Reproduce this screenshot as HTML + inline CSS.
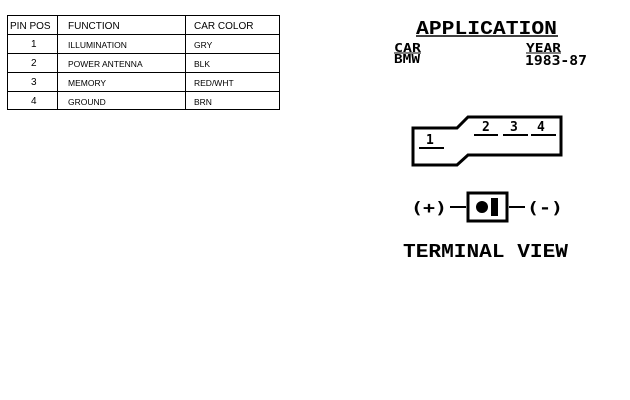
<!DOCTYPE html>
<html><head><style>
body{margin:0;width:630px;height:400px;background:#fff;position:relative;overflow:hidden;font-family:"Liberation Mono",monospace;}
</style></head><body>
<svg width="630" height="400" style="position:absolute;left:0;top:0" font-family="Liberation Mono, monospace">
<g stroke="#000" stroke-width="1" fill="none">
<rect x="7.5" y="15.5" width="272" height="94"/>
<line x1="7.5" y1="34.5" x2="279.5" y2="34.5"/>
<line x1="7.5" y1="53.5" x2="279.5" y2="53.5"/>
<line x1="7.5" y1="72.5" x2="279.5" y2="72.5"/>
<line x1="7.5" y1="91.5" x2="279.5" y2="91.5"/>
<line x1="57.5" y1="15.5" x2="57.5" y2="109.5"/>
<line x1="185.5" y1="15.5" x2="185.5" y2="109.5"/>
</g>
<g font-family="Liberation Sans, sans-serif" font-size="10" fill="#000">
<text x="10" y="29">PIN POS</text>
<text x="68" y="29">FUNCTION</text>
<text x="194" y="29">CAR COLOR</text>
<text x="31" y="47">1</text><text x="31" y="66">2</text><text x="31" y="85">3</text><text x="31" y="104">4</text>
<g font-size="8.5">
<text x="68" y="48">ILLUMINATION</text><text x="194" y="48">GRY</text>
<text x="68" y="67">POWER ANTENNA</text><text x="194" y="67">BLK</text>
<text x="68" y="86">MEMORY</text><text x="194" y="86">RED/WHT</text>
<text x="68" y="105">GROUND</text><text x="194" y="105">BRN</text>
</g></g>
<text x="416" y="34" font-size="19" font-weight="bold" textLength="141" lengthAdjust="spacingAndGlyphs">APPLICATION</text>
<line x1="416" y1="36" x2="558" y2="36" stroke="#000" stroke-width="1.5"/>
<g font-family="DejaVu Sans Mono, monospace" font-weight="bold" font-size="12">
<text x="394" y="52" textLength="27" lengthAdjust="spacingAndGlyphs">CAR</text>
<line x1="394" y1="53" x2="421" y2="53" stroke="#000"/>
<text x="394" y="63" textLength="26" lengthAdjust="spacingAndGlyphs">BMW</text>
<text x="526" y="52" textLength="35" lengthAdjust="spacingAndGlyphs">YEAR</text>
<line x1="526" y1="53" x2="561" y2="53" stroke="#000"/>
<text x="525" y="65" font-size="13" textLength="62" lengthAdjust="spacingAndGlyphs">1983-87</text>
</g>
<polygon points="413,128 457,128 468,117 561,117 561,155 468,155 457,165 413,165" fill="none" stroke="#000" stroke-width="3"/>
<g font-family="DejaVu Sans Mono, monospace" font-weight="bold" font-size="13">
<text x="426" y="144">1</text>
<text x="482" y="131">2</text><text x="510" y="131">3</text><text x="537" y="131">4</text>
</g>
<g stroke="#000" stroke-width="2">
<line x1="419" y1="148" x2="444" y2="148"/>
<line x1="474" y1="135" x2="498" y2="135"/>
<line x1="503" y1="135" x2="528" y2="135"/>
<line x1="531" y1="135" x2="556" y2="135"/>
<line x1="450" y1="207" x2="466" y2="207"/>
<line x1="509" y1="207" x2="525" y2="207"/>
</g>
<g font-family="DejaVu Sans Mono, monospace" font-weight="bold" font-size="16">
<text x="411" y="213" textLength="36" lengthAdjust="spacingAndGlyphs">(+)</text>
<text x="527" y="213" textLength="36" lengthAdjust="spacingAndGlyphs">(-)</text>
</g>
<rect x="468" y="193" width="39" height="28" fill="none" stroke="#000" stroke-width="3"/>
<circle cx="482" cy="207" r="6" fill="#000"/>
<rect x="491" y="198" width="7" height="18" fill="#000"/>
<text x="403" y="257" font-size="19" font-weight="bold" textLength="165" lengthAdjust="spacingAndGlyphs">TERMINAL VIEW</text>
</svg>
</body></html>
